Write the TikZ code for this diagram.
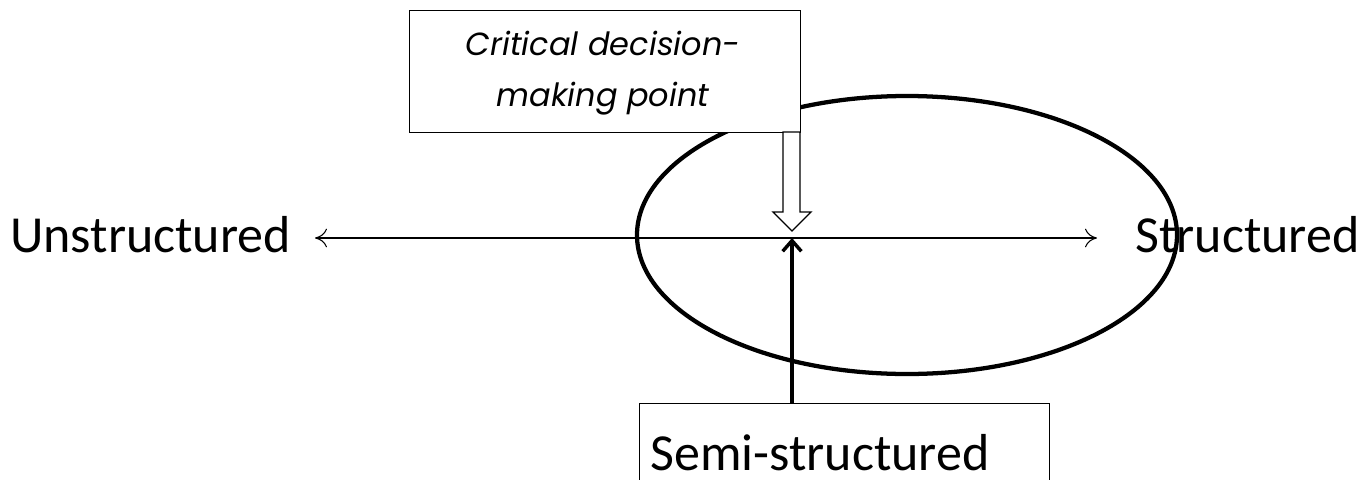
\documentclass[tikz,border=0pt]{standalone}
\usepackage{fontspec}
\setmainfont{Carlito}
\newfontfamily\geofont{Poppins}
\usetikzlibrary{arrows.meta,calc}
\begin{document}
\begin{tikzpicture}[x=0.75pt,y=-0.75pt,
  thinbox/.style={draw,line width=0.9pt,fill=white,inner sep=0pt},
  lbl/.style={font=\fontsize{39}{44}\selectfont,inner sep=0pt},
  axis/.style={line width=0.8pt,{To[length=9pt,width=14pt]}-{To[length=9pt,width=14pt]}},
  ring/.style={line width=3.2pt},
  boldarrow/.style={line width=2.6pt,-{Straight Barb[length=8pt,width=14pt]}},
  hollow/.style={draw,line width=1pt,fill=white,line join=miter}]
\useasboundingbox (0,0) rectangle (1372,479);
\clip (0,0) rectangle (1372,479);
% ellipse
\draw[ring] (907,235) ellipse [x radius=270, y radius=139];
% top box
\node[thinbox,minimum width=391*0.75pt,minimum height=122*0.75pt,anchor=north west] (crit) at (409,10) {};
\node[font=\geofont\itshape\fontsize{24}{38}\selectfont,align=center,inner sep=0pt] (crittext) at (603,73) {Critical decision-\\making point};
% axis
\coordinate (lft) at (315,238);
\coordinate (rgt) at (1097,238);
\coordinate (cp) at (792,238);
\node[lbl,anchor=base west] (uns) at (10,252) {Unstructured};
\node[lbl,anchor=base west] (str) at (1135,252) {Structured};
\draw[axis] (lft) -- (rgt);
% hollow arrow
\draw[hollow] (783,132) -- (800,132) -- (800,212) -- (811,212) -- (792,231) -- (773,212) -- (783,212) -- cycle;
% bottom box
\node[thinbox,minimum width=410*0.75pt,minimum height=120*0.75pt,anchor=north west] (semi) at (639,403) {};
\node[lbl,anchor=base west] (semitext) at (650,470) {Semi-structured};
\draw[boldarrow] (semi.north -| cp) -- (cp);
\end{tikzpicture}
\end{document}
